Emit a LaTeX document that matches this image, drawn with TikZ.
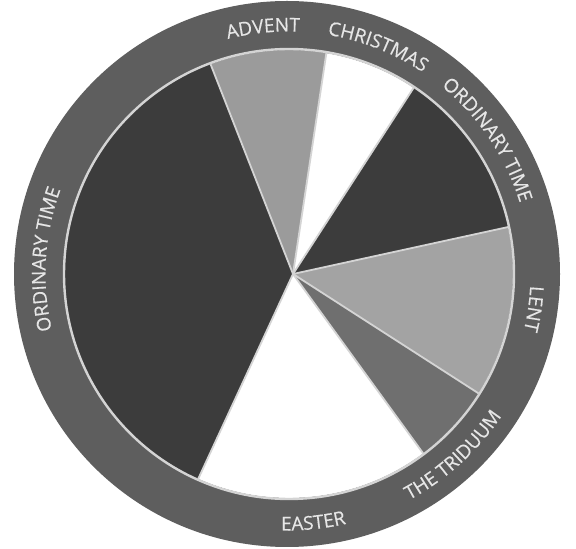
\documentclass[tikz,border=0pt]{standalone}
\usepackage{fontspec}
\newfontfamily\lblfont[FakeBold=0.4]{Open Sans}
\usetikzlibrary{decorations.text}
\definecolor{ringc}{HTML}{5E5E5E}
\definecolor{darkc}{HTML}{3C3C3C}
\definecolor{advc}{HTML}{9B9B9B}
\definecolor{lentc}{HTML}{A3A3A3}
\definecolor{tridc}{HTML}{6F6F6F}
\definecolor{linec}{HTML}{D4D4D4}
\definecolor{lblc}{HTML}{E6E6E6}
\begin{document}
\begin{tikzpicture}[x=1pt,y=1pt,
  sepline/.style={draw=linec, line width=1.8pt},
  arclabel/.style={decorate, decoration={text along path, text align=center, text color=lblc,
      text={|\fontsize{19}{19}\selectfont\lblfont|#1}}}
]
\useasboundingbox (0,0) rectangle (576,549);
\coordinate (O) at (289,275);
\coordinate (R) at (287,275);
\coordinate (P) at (293,275);
\coordinate (L) at (288,275);
% outer ring
\fill[ringc] (R) circle[radius=273];
% sectors
\fill[darkc] (P) -- ([shift={(O)}]110.5:224) arc[start angle=110.5, end angle=246.1, radius=224] -- cycle;
\fill[advc]  (P) -- ([shift={(O)}]80.4:224) arc[start angle=80.4, end angle=110.5, radius=224] -- cycle;
\fill[white] (P) -- ([shift={(O)}]56.2:224) arc[start angle=56.2, end angle=80.4, radius=224] -- cycle;
\fill[darkc] (P) -- ([shift={(O)}]12.1:224) arc[start angle=12.1, end angle=56.2, radius=224] -- cycle;
\fill[lentc] (P) -- ([shift={(O)}]-32.2:224) arc[start angle=-32.2, end angle=12.1, radius=224] -- cycle;
\fill[tridc] (P) -- ([shift={(O)}]-53.2:224) arc[start angle=-53.2, end angle=-32.2, radius=224] -- cycle;
\fill[white] (P) -- ([shift={(O)}]-113.9:224) arc[start angle=-113.9, end angle=-53.2, radius=224] -- cycle;
% separators
\foreach \a in {110.5,80.4,56.2,12.1,-32.2,-53.2,-113.9}
  \draw[sepline] (P) -- ([shift={(O)}]\a:224);
% inner rim
\draw[draw=linec, line width=2.4pt] (O) circle[radius=225];
% labels (tops outward, clockwise)
\path[arclabel=ADVENT] ([shift={(L)}]140.8:242.5) arc[start angle=140.8, end angle=50.8, radius=242.5];
\path[arclabel=CHRISTMAS] ([shift={(L)}]113.4:242.5) arc[start angle=113.4, end angle=23.4, radius=242.5];
\path[arclabel=ORDINARY TIME] ([shift={(L)}]78.9:242.5) arc[start angle=78.9, end angle=-11.1, radius=242.5];
\path[arclabel=LENT] ([shift={(L)}]36.9:242.5) arc[start angle=36.9, end angle=-53.1, radius=242.5];
\path[arclabel=ORDINARY TIME] ([shift={(L)}]221.5:242.5) arc[start angle=221.5, end angle=131.5, radius=242.5];
% labels (tops inward, counter-clockwise)
\path[arclabel=THE TRIDUUM] ([shift={(L)}]-92.7:256.5) arc[start angle=-92.7, end angle=-2.7, radius=256.5];
\path[arclabel=EASTER] ([shift={(L)}]-129.2:256.5) arc[start angle=-129.2, end angle=-39.2, radius=256.5];
\end{tikzpicture}
\end{document}
